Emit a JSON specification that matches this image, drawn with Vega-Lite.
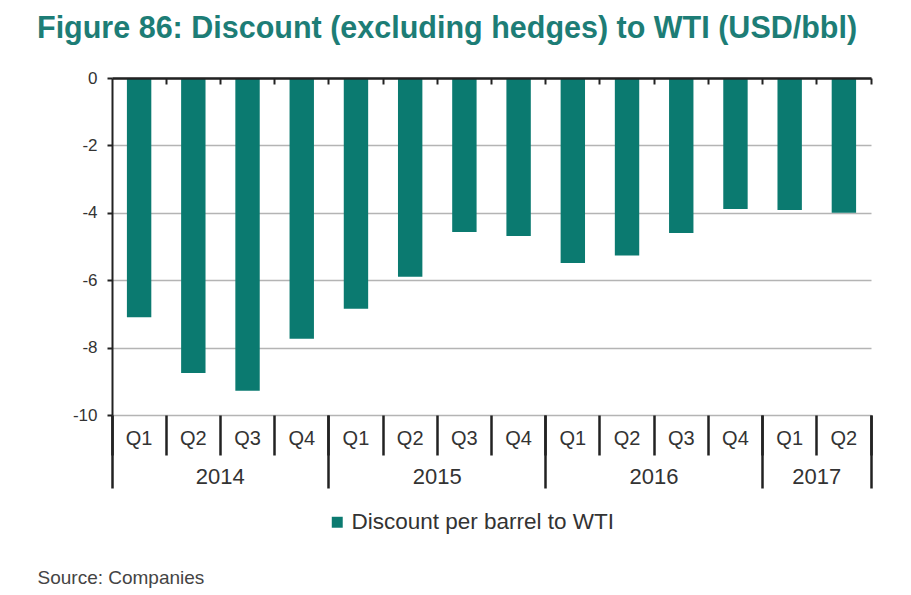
{
  "$schema": "https://vega.github.io/schema/vega-lite/v6.json",
  "width": 759,
  "height": 337,
  "autosize": {"type": "none"},
  "padding": {"left": 112, "top": 78, "right": 40, "bottom": 180},
  "background": "white",
  "config": {
    "font": "Liberation Sans",
    "view": {"stroke": null}
  },
  "title": {
    "text": "Figure 86: Discount (excluding hedges) to WTI (USD/bbl)",
    "anchor": "start",
    "frame": "group",
    "dx": -75,
    "offset": 25,
    "font": "Liberation Sans",
    "fontSize": 30.5,
    "fontWeight": "bold",
    "color": "#1d7d76"
  },
  "data": {
    "values": [
      {"period": "2014 Q1", "value": -7.1, "series": "Discount per barrel to WTI"},
      {"period": "2014 Q2", "value": -8.75, "series": "Discount per barrel to WTI"},
      {"period": "2014 Q3", "value": -9.28, "series": "Discount per barrel to WTI"},
      {"period": "2014 Q4", "value": -7.74, "series": "Discount per barrel to WTI"},
      {"period": "2015 Q1", "value": -6.85, "series": "Discount per barrel to WTI"},
      {"period": "2015 Q2", "value": -5.9, "series": "Discount per barrel to WTI"},
      {"period": "2015 Q3", "value": -4.57, "series": "Discount per barrel to WTI"},
      {"period": "2015 Q4", "value": -4.69, "series": "Discount per barrel to WTI"},
      {"period": "2016 Q1", "value": -5.49, "series": "Discount per barrel to WTI"},
      {"period": "2016 Q2", "value": -5.27, "series": "Discount per barrel to WTI"},
      {"period": "2016 Q3", "value": -4.6, "series": "Discount per barrel to WTI"},
      {"period": "2016 Q4", "value": -3.89, "series": "Discount per barrel to WTI"},
      {"period": "2017 Q1", "value": -3.92, "series": "Discount per barrel to WTI"},
      {"period": "2017 Q2", "value": -4.0, "series": "Discount per barrel to WTI"}
    ]
  },
  "resolve": {"scale": {"x": "shared"}, "axis": {"x": "independent"}},
  "layer": [
    {
      "mark": {"type": "bar", "width": {"band": 0.45}},
      "encoding": {
        "x": {
          "field": "period",
          "type": "ordinal",
          "sort": null,
          "scale": {"paddingInner": 0, "paddingOuter": 0},
          "axis": {
            "orient": "bottom",
            "title": null,
            "domain": false,
            "grid": false,
            "bandPosition": 1,
            "tickExtra": true,
            "tickSize": 40,
            "tickWidth": 2.5,
            "tickColor": "#222222",
            "labelExpr": "slice(datum.label, 5)",
            "labelAngle": 0,
            "labelFontSize": 20,
            "labelColor": "#333333",
            "labelBaseline": "middle",
            "labelPadding": -17
          }
        },
        "y": {
          "field": "value",
          "type": "quantitative",
          "scale": {"domain": [-10, 0], "nice": false, "zero": false},
          "axis": {
            "title": null,
            "values": [-10, -8, -6, -4, -2, 0],
            "labelExpr": "datum.value + ''",
            "domainColor": "#222222",
            "domainWidth": 2,
            "tickColor": "#222222",
            "tickWidth": 2,
            "tickSize": 5,
            "labelFontSize": 17,
            "labelColor": "#333333",
            "labelPadding": 10,
            "gridColor": "#b4b4b4",
            "gridWidth": 1.5
          }
        },
        "color": {
          "field": "series",
          "type": "nominal",
          "scale": {"range": ["#0b7a70"]},
          "legend": {
            "orient": "none",
            "legendX": 214,
            "legendY": 433,
            "title": null,
            "symbolType": "square",
            "symbolSize": 120,
            "symbolStrokeWidth": 0,
            "labelFontSize": 22.5,
            "labelLimit": 500,
            "labelColor": "#333333",
            "labelOffset": 3
          }
        }
      }
    },
    {
      "mark": {"type": "bar", "width": {"band": 0.45}, "opacity": 0},
      "encoding": {
        "x": {
          "field": "period",
          "type": "ordinal",
          "sort": null,
          "axis": {
            "orient": "bottom",
            "domain": false,
            "grid": false,
            "bandPosition": 1,
            "tickExtra": true,
            "tickSize": 73,
            "tickWidth": 2.5,
            "tickColor": "#222222",
            "tickOpacity": {
              "condition": {
                "test": "!isString(datum.value) || indexof(datum.value, 'Q4') >= 0 || datum.value == '2017 Q2'",
                "value": 1
              },
              "value": 0
            },
            "labelExpr": "datum.value == '2014 Q2' || datum.value == '2015 Q2' || datum.value == '2016 Q2' || datum.value == '2017 Q1' ? slice(datum.label, 0, 4) : ''",
            "labelAngle": 0,
            "labelOffset": 27,
            "labelFontSize": 22,
            "labelColor": "#333333",
            "labelBaseline": "middle",
            "labelPadding": -12,
            "labelOverlap": false,
            "title": "Source: Companies",
            "titleFontSize": 19,
            "titleFontWeight": "normal",
            "titleColor": "#444444",
            "titleAnchor": "start",
            "titleAlign": "left",
            "titleBaseline": "middle",
            "titleX": -75,
            "titleY": 162
          }
        },
        "y": {"field": "value", "type": "quantitative"}
      }
    },
    {
      "mark": {"type": "bar", "width": {"band": 0.45}, "opacity": 0},
      "encoding": {
        "x": {
          "field": "period",
          "type": "ordinal",
          "sort": null,
          "axis": {
            "orient": "top",
            "title": null,
            "labels": false,
            "grid": false,
            "domain": true,
            "domainColor": "#222222",
            "domainWidth": 2.5,
            "bandPosition": 1,
            "tickSize": -6,
            "tickWidth": 2,
            "tickColor": "#222222",
            "zindex": 1
          }
        },
        "y": {"field": "value", "type": "quantitative"}
      }
    }
  ]
}
